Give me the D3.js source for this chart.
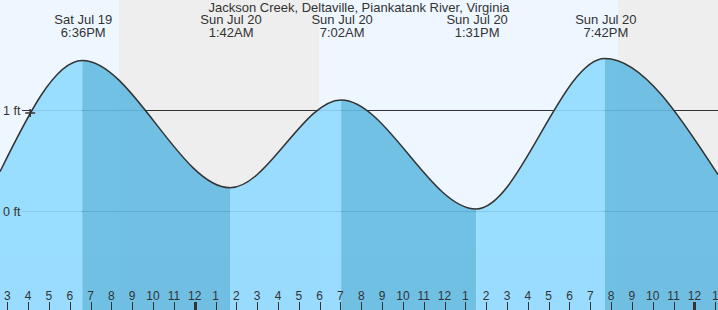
<!DOCTYPE html>
<html>
<head>
<meta charset="utf-8">
<script src="https://cdn.jsdelivr.net/npm/d3@7"></script>
<style>
  body { margin: 0; background: #fff; }
  svg { display: block; font-family: "Liberation Sans", Arial, sans-serif; }
</style>
</head>
<body>
<div id="chart"></div>
<script>
// tide extremes
const extremeTimes = ["2025-07-19T18:36", "2025-07-20T01:42", "2025-07-20T07:02", "2025-07-20T13:31", "2025-07-20T19:42"];
const extremeHeights = [1.49, 0.23, 1.10, 0.02, 1.51];

// curve heights at the left and right edges of the window
const edgeTimes = ["2025-07-19T14:39", "2025-07-21T01:08"];
const edgeHeights = [0.39, 0.36];

// night (sunset -> sunrise)
const nightStarts = ["2025-07-19T20:22", "2025-07-20T20:20"];
const nightEnds = ["2025-07-20T05:59", "2025-07-21T05:59"];

const gridValues = [0, 1];
const gridLabels = ["0 ft", "1 ft"];

const nowTime = "2025-07-19T16:06";
const nowHeight = 0.97;

const title = "Jackson Creek, Deltaville, Piankatank River, Virginia";

const width = 718, height = 310;
const parse = d3.timeParse("%Y-%m-%dT%H:%M");

const extremes = extremeTimes.map((t, i) => ({ t: parse(t), h: extremeHeights[i] }));
const points = [{ t: parse(edgeTimes[0]), h: edgeHeights[0] }]
  .concat(extremes)
  .concat([{ t: parse(edgeTimes[1]), h: edgeHeights[1] }]);

const x = d3.scaleTime()
  .domain([parse(edgeTimes[0]), parse(edgeTimes[1])])
  .range([0, width]);

const y = d3.scaleLinear()
  .domain([0, 1])
  .range([211, 110]);

const svg = d3.select("#chart")
  .append("svg")
  .attr("width", width)
  .attr("height", height);

// day background, then nights
svg.append("rect")
  .attr("width", width)
  .attr("height", height)
  .attr("fill", "#eef7ff");

svg.selectAll(".night")
  .data(nightStarts.map((s, i) => [parse(s), parse(nightEnds[i])]))
  .enter()
  .append("rect")
  .attr("class", "night")
  .attr("x", d => x(d[0]))
  .attr("y", 0)
  .attr("width", d => x(d[1]) - x(d[0]))
  .attr("height", height)
  .attr("fill", "#eeeeee");

// grid lines (under the water)
svg.selectAll(".grid")
  .data(gridValues)
  .enter()
  .append("line")
  .attr("class", "grid")
  .attr("x1", 22)
  .attr("x2", width)
  .attr("y1", d => Math.round(y(d)) + 0.5)
  .attr("y2", d => Math.round(y(d)) + 0.5)
  .attr("stroke", "#333")
  .attr("stroke-width", 1);

// water
const area = d3.area()
  .x(d => x(d.t))
  .y0(height)
  .y1(d => y(d.h))
  .curve(d3.curveMonotoneX);

const line = d3.line()
  .x(d => x(d.t))
  .y(d => y(d.h))
  .curve(d3.curveMonotoneX);

svg.append("clipPath")
  .attr("id", "water")
  .append("path")
  .attr("d", area(points));

// rising (light) / falling (dark) pieces between extremes
const segs = d3.pairs(points).map(p => ({ t0: p[0].t, t1: p[1].t, rising: p[1].h > p[0].h }));

svg.append("g")
  .attr("clip-path", "url(#water)")
  .attr("opacity", 0.9)
  .selectAll("rect")
  .data(segs)
  .enter()
  .append("rect")
  .attr("x", d => x(d.t0))
  .attr("y", 0)
  .attr("width", d => x(d.t1) - x(d.t0))
  .attr("height", height)
  .attr("fill", d => d.rising ? "#90daff" : "#63bbe2");

svg.append("path")
  .attr("d", line(points))
  .attr("fill", "none")
  .attr("stroke", "#333")
  .attr("stroke-width", 1.5);

svg.selectAll(".gridLabel")
  .data(gridValues)
  .enter()
  .append("text")
  .attr("class", "gridLabel")
  .attr("x", 3)
  .attr("y", d => y(d) + 4.5)
  .attr("font-size", 12.5)
  .attr("fill", "#333")
  .text((d, i) => gridLabels[i]);

// current time marker
const nx = x(parse(nowTime)), ny = y(nowHeight);
svg.append("path")
  .attr("d", `M${nx - 5},${ny}H${nx + 5}M${nx},${ny - 4}V${ny + 4}`)
  .attr("stroke", "#333")
  .attr("stroke-width", 1.5);

// extreme labels
const dayFmt = d3.timeFormat("%a %b %d");
const timeFmt = d3.timeFormat("%-I:%M%p");

const lab = svg.selectAll(".ext")
  .data(extremes)
  .enter()
  .append("g")
  .attr("class", "ext")
  .attr("transform", d => "translate(" + (x(d.t) + 1) + ",0)");

lab.append("text")
  .attr("y", 24)
  .attr("text-anchor", "middle")
  .attr("font-size", 13)
  .attr("fill", "#333")
  .text(d => dayFmt(d.t));

lab.append("text")
  .attr("y", 37)
  .attr("text-anchor", "middle")
  .attr("font-size", 13)
  .attr("fill", "#333")
  .text(d => timeFmt(d.t));

svg.append("text")
  .attr("x", 359)
  .attr("y", 12)
  .attr("text-anchor", "middle")
  .attr("font-size", 13)
  .attr("fill", "#333")
  .text(title);

// hour ticks along the bottom
const hours = x.ticks(d3.timeHour.every(1));
const hourFmt = d3.timeFormat("%-I");

svg.selectAll(".tick")
  .data(hours)
  .enter()
  .append("line")
  .attr("class", "tick")
  .attr("x1", d => Math.round(x(d)) + 0.5)
  .attr("x2", d => Math.round(x(d)) + 0.5)
  .attr("y1", 302)
  .attr("y2", height)
  .attr("stroke", "#333")
  .attr("stroke-width", d => d.getHours() === 0 ? 3 : 1);

svg.selectAll(".hourLabel")
  .data(hours)
  .enter()
  .append("text")
  .attr("class", "hourLabel")
  .attr("x", d => x(d))
  .attr("y", 300)
  .attr("text-anchor", "middle")
  .attr("font-size", 12)
  .attr("fill", "#333")
  .text(d => hourFmt(d));
</script>
</body>
</html>
